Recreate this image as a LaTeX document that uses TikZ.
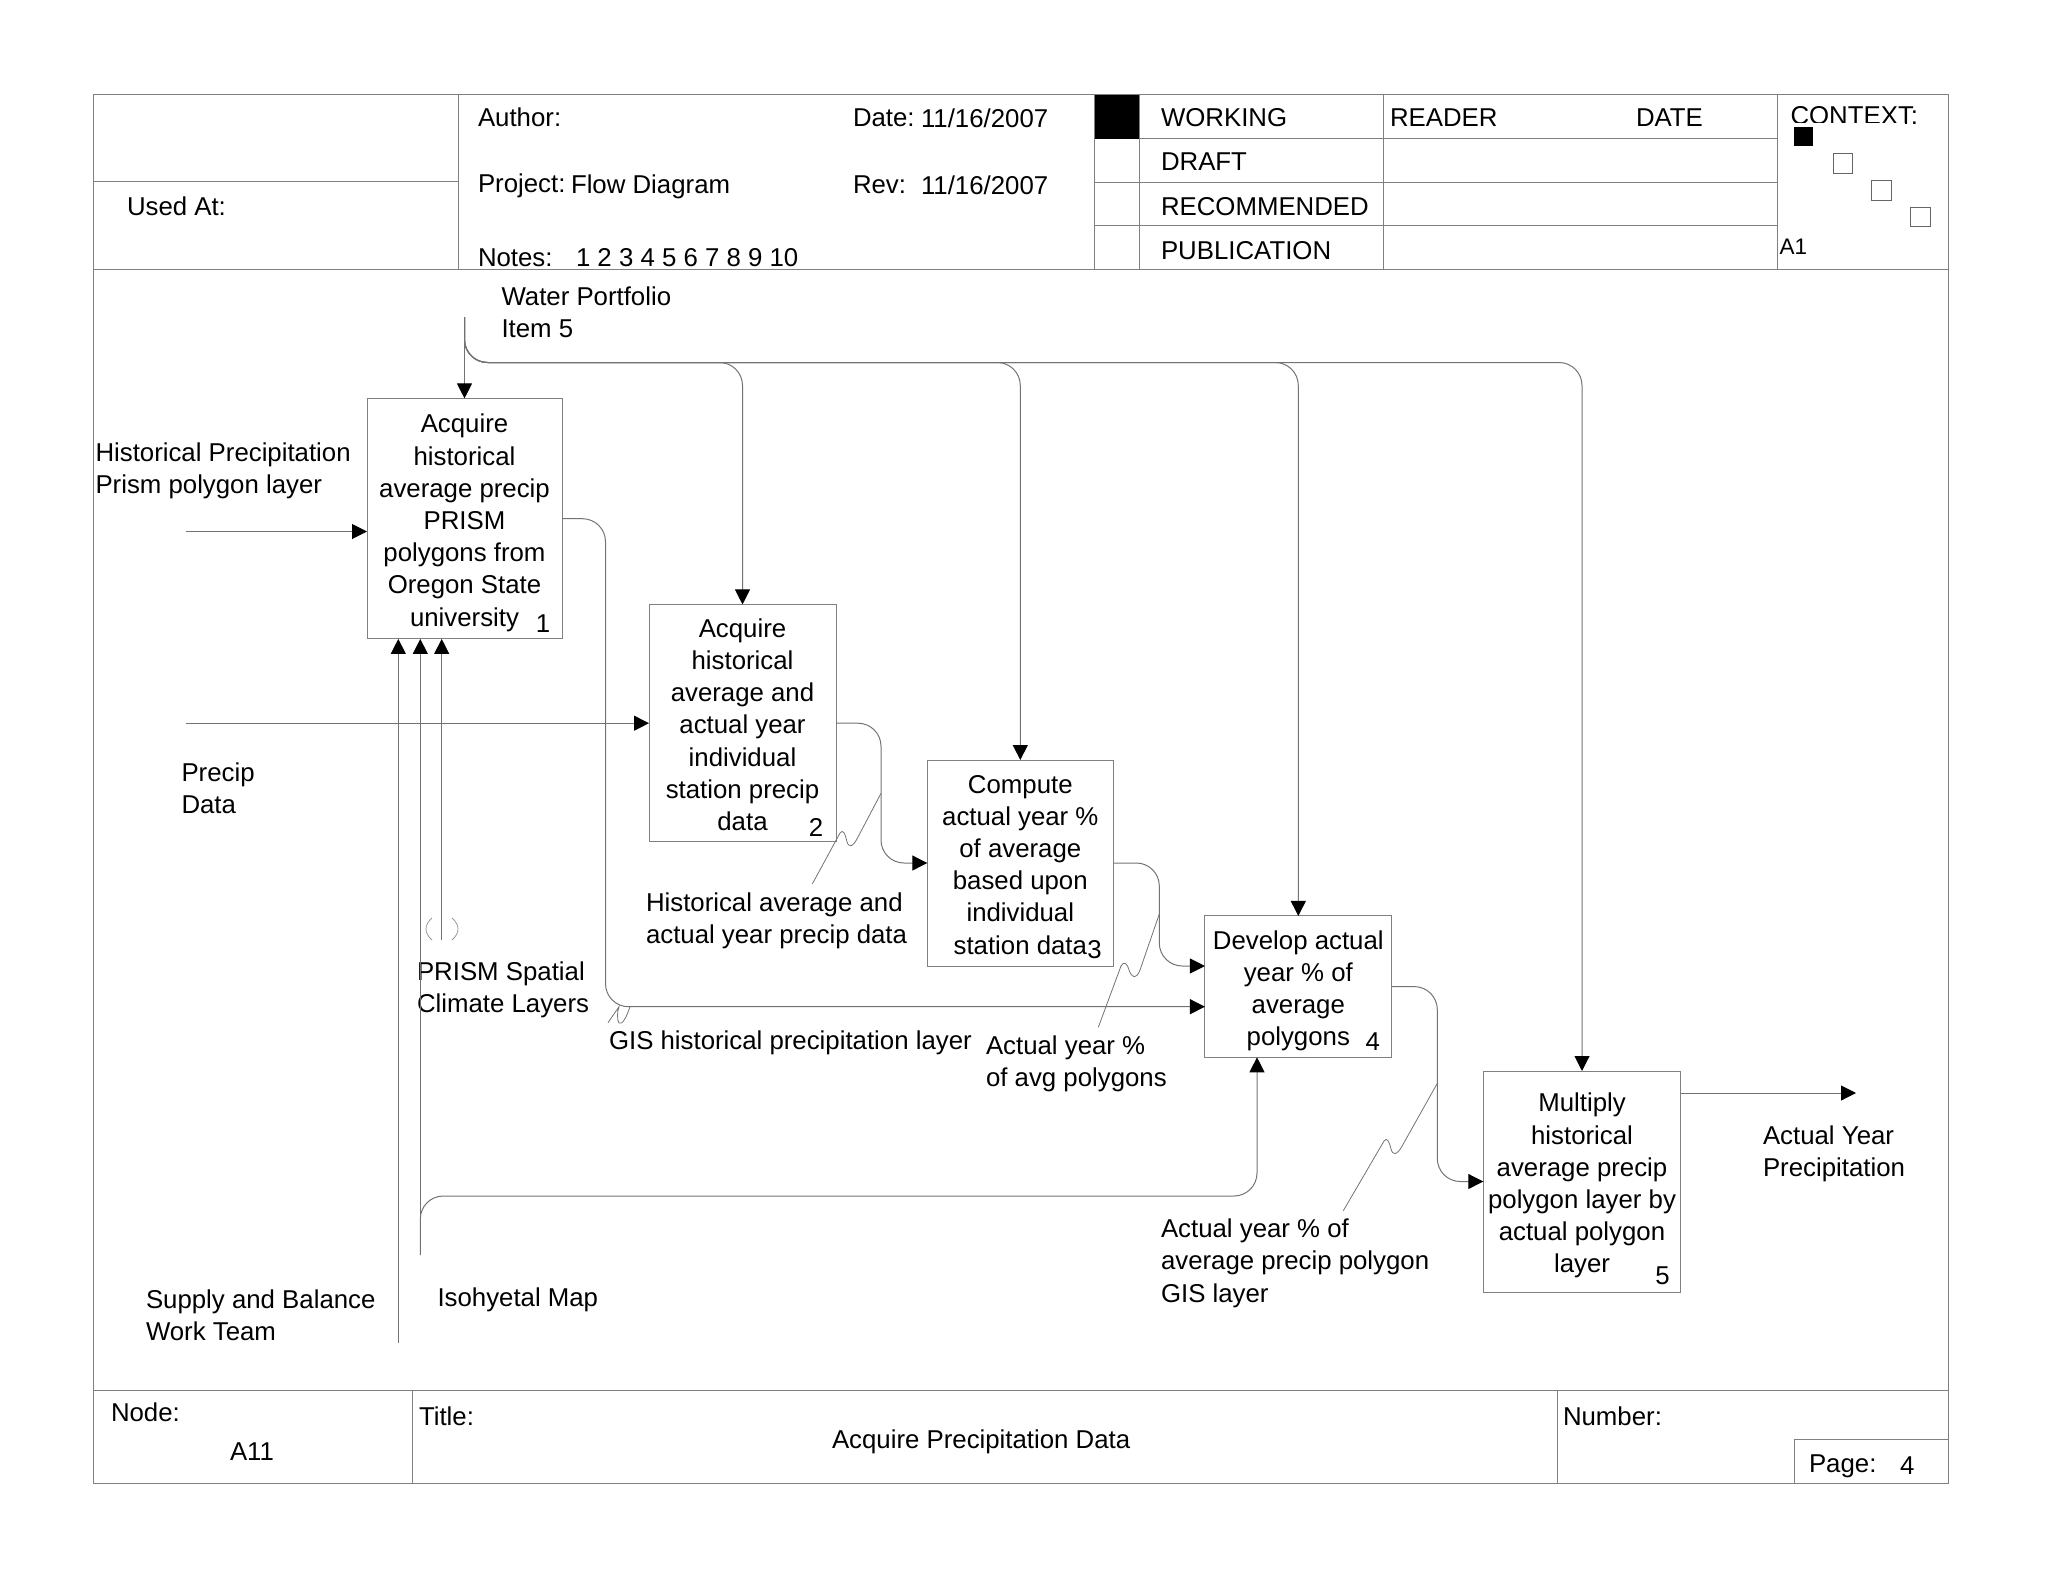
\documentclass[tikz,border=0pt]{standalone}
\usepackage{fontspec}
\usepackage{tikz}
\usepackage{xcolor}
\setmainfont{Liberation Sans}
\usetikzlibrary{arrows.meta}

\begin{document}
\begin{tikzpicture}[
	x = 1pt, y = -1pt,
	every node/.style = {font = \fontsize{25.8}{32.2}\selectfont, inner sep = 0pt, outer sep = 0pt},
	label/.style = {anchor = north west, align = left},
	field/.style = {anchor = west},
	box/.style = {draw = black!50, line width = 1pt, align = center},
	frame/.style = {draw = black!50, line width = 1pt},
	thin frame/.style = {draw = black!60, line width = .8pt},
	flow/.style = {draw = black!55, line width = 1pt, -{Triangle[length = 15pt, width = 15pt, color = black, fill = black]}},
	curved flow/.style = {flow, rounded corners = 23pt},
	leader/.style = {draw = black!55, line width = .8pt}
]
\useasboundingbox (0,0) rectangle (2048,1582);

\draw[frame] (93,94.7) rectangle (1948,1483.3);
\draw[frame] (93,269) -- (1948,269);
\draw[frame] (93,1390.3) -- (1948,1390.3);
\draw[frame] (93,181.5) -- (458,181.5);
\draw[frame] (458,94.7) -- (458,269);
\draw[frame] (1094.5,94.7) -- (1094.5,269);
\draw[frame] (1139,94.7) -- (1139,269);
\draw[frame] (1383.5,94.7) -- (1383.5,269);
\draw[frame] (1777.5,94.7) -- (1777.5,269);
\draw[frame] (1094.5,138.7) -- (1777.5,138.7);
\draw[frame] (1094.5,182) -- (1777.5,182);
\draw[frame] (1094.5,225.7) -- (1777.5,225.7);
\draw[frame] (412.7,1390.3) -- (412.7,1483.3);
\draw[frame] (1557,1390.3) -- (1557,1483.3);
\draw[frame] (1794.7,1483.3) -- (1794.7,1439.7) -- (1948,1439.7);
\fill[black] (1094.5,94.7) rectangle (1139,138.7);

\node[field] (author) at (478,117.5) {Author:};
\node[field] (date) at (853,117.5) {Date:};
\node[field] (dateval) at (921,118) {11/16/2007};
\node[field] (project) at (478,185.5) {Project:};
\node[field] (projectval) at (571,186.5) {Flow Diagram};
\node[field] (rev) at (853,185) {Rev:};
\node[field] (revval) at (921,185.5) {11/16/2007};
\node[field] (notes) at (478,258) {Notes:};
\node[field] (notesval) at (576,258) {1 2 3 4 5 6 7 8 9 10};
\node[field] (usedat) at (127,206.5) {Used At:};
\node[field] (working) at (1161,117.5) {WORKING};
\node[field] (draft) at (1161,162) {DRAFT};
\node[field] (recommended) at (1161,206.5) {RECOMMENDED};
\node[field] (publication) at (1161,251) {PUBLICATION};
\node[field] (reader) at (1390,117.5) {READER};
\node[field] (readdate) at (1636,117.5) {DATE};
\node[field] (context) at (1790.5,116) {CONTEXT:};
\fill[white] (1785,122.5) rectangle (1905,127);
\fill[black] (1793.5,126.7) rectangle (1813,146);
\draw[thin frame] (1833,153) rectangle (1852,173);
\draw[thin frame] (1871.6,180) rectangle (1891,200);
\draw[thin frame] (1910,207) rectangle (1930,226.5);
\node[field, font = \fontsize{22.5}{28}\selectfont] (aone) at (1779.5,246.7) {A1};

\node[field] (nodelabel) at (111,1412) {Node:};
\node[field] (nodeval) at (230,1451.5) {A11};
\node[field] (title) at (419,1416) {Title:};
\node[field] (titleval) at (832,1441.5) {Acquire Precipitation Data};
\node[field] (number) at (1563,1416) {Number:};
\node[field] (page) at (1809,1466.5) {Page:};
\node[field] (pageval) at (1900,1465.5) {4};

\node[box, minimum width = 195pt, minimum height = 240.5pt] (box1) at (464.5,518.7) {\rule{0pt}{27pt}Acquire\\historical\\average precip\\PRISM\\polygons from\\Oregon State\\university};
\node[box, minimum width = 187pt, minimum height = 237.5pt] (box2) at (742.5,723.2) {\rule{0pt}{21.5pt}Acquire\\historical\\average and\\actual year\\individual\\station precip\\data};
\node[box, minimum width = 186pt, minimum height = 206pt] (box3) at (1020.3,863) {\rule{0pt}{21.5pt}Compute\\actual year \%\\of average\\based upon\\individual\\station data};
\node[box, minimum width = 186.7pt, minimum height = 141.3pt] (box4) at (1298.3,986.6) {\rule{0pt}{27pt}Develop actual\\year \% of\\average\\polygons};
\node[box, minimum width = 197.4pt, minimum height = 221pt] (box5) at (1582,1181.5) {\rule{0pt}{27pt}Multiply\\historical\\average precip\\polygon layer by\\actual polygon\\layer};

\node (num1) at (543,624) {1};
\node (num2) at (816,827) {2};
\node (num3) at (1094.5,950) {3};
\node (num4) at (1372.7,1042) {4};
\node (num5) at (1662.6,1276) {5};

\node[label] (water) at (501.5,286.5) {Water Portfolio\\Item 5};
\node[label] (histprecip) at (95.5,443) {Historical Precipitation\\Prism polygon layer};
\node[label] (precip) at (181.5,763) {Precip\\Data};
\node[label] (prism) at (417,961.7) {PRISM Spatial\\Climate Layers};
\node[label] (histavg) at (646,893) {Historical average and\\actual year precip data};
\node[label] (gis) at (609,1030.7) {GIS historical precipitation layer};
\node[label] (avgpoly) at (986,1036) {Actual year \%\\of avg polygons};
\node[label] (actual) at (1763,1125.5) {Actual Year\\Precipitation};
\node[label] (gislayer) at (1161,1219) {Actual year \% of\\average precip polygon\\GIS layer};
\node[label] (team) at (146,1290) {Supply and Balance\\Work Team};
\node[label] (iso) at (437.5,1288) {Isohyetal Map};

\coordinate (bus) at (464.5,362.5);
\coordinate (waterstart) at (464.5,317);
\coordinate (input1) at (185.5,531.5);
\coordinate (input2) at (185.5,723.2);
\coordinate (teamstart) at (398.3,1343);
\coordinate (isostart) at (420.3,1255);
\coordinate (isorun) at (420.3,1196);
\coordinate (prismstart) at (441.7,940);
\coordinate (isotarget) at (1257,1057.3);
\coordinate (gisrun) at (605.5,1006.7);
\coordinate (bend2) at (881,723.2);
\coordinate (bend3) at (1159.3,863);
\coordinate (bend4) at (1437.3,986.6);
\coordinate (outend) at (1856,1093);
\coordinate (outstart) at (1680.7,1093);
\coordinate (histstart) at (605.5,518.7);

\draw[flow] (waterstart) -- (box1.north);
\draw[curved flow] (waterstart) -- (bus) -- (bus -| box2.north) -- (box2.north);
\draw[curved flow] (waterstart) -- (bus) -- (bus -| box3.north) -- (box3.north);
\draw[curved flow] (waterstart) -- (bus) -- (bus -| box4.north) -- (box4.north);
\draw[curved flow] (waterstart) -- (bus) -- (bus -| box5.north) -- (box5.north);

\draw[flow] (input1) -- (input1 -| box1.west);
\draw[flow] (input2) -- (box2.west);
\draw[flow] (teamstart) -- (teamstart |- box1.south);
\draw[flow] (isostart) -- (isostart |- box1.south);
\draw[flow] (prismstart) -- (prismstart |- box1.south);
\draw[curved flow] (isostart) -- (isorun) -- (isorun -| isotarget) -- (isotarget);

\draw[curved flow] (box1.east) -- (histstart) -- (gisrun) -- (gisrun -| box4.west);
\draw[curved flow] (box2.east) -- (bend2) -- (bend2 |- box3.west) -- (box3.west);
\draw[curved flow] (box3.east) -- (bend3) -- (bend3 |- 0,966) -- (box4.west |- 0,966);
\draw[curved flow] (box4.east) -- (bend4) -- (bend4 |- box5.west) -- (box5.west);
\draw[flow] (outstart) -- (outend);

\draw[leader] (bend2 |- 0,793.3) -- (858,837) .. controls (853,847) and (849,848) .. (847,842) .. controls (845,833) and (843,829) .. (840,833) -- (812.3,884);
\draw[leader] (bend3 |- 0,914) -- (1140,970) .. controls (1136,980) and (1132,978) .. (1129,970) .. controls (1127,963) and (1124,961) .. (1121,966) -- (1098.3,1027.3);
\draw[leader] (bend4 |- 0,1083.3) -- (1401.7,1146.7) .. controls (1397,1155) and (1393,1156) .. (1391,1149) .. controls (1389,1141) and (1387,1137) .. (1384,1141) -- (1343.3,1210.7);
\draw[leader] (630,1006.7) .. controls (627,1016) and (622,1026) .. (619,1023) .. controls (617,1020) and (617,1012) .. (619,1006.7) -- (608,1022.7);

\draw[leader, draw = black!40] (432,918) .. controls (424,925) and (424,933) .. (432,940);
\draw[leader, draw = black!40] (452,918) .. controls (460,925) and (460,933) .. (452,940);
\end{tikzpicture}
\end{document}
